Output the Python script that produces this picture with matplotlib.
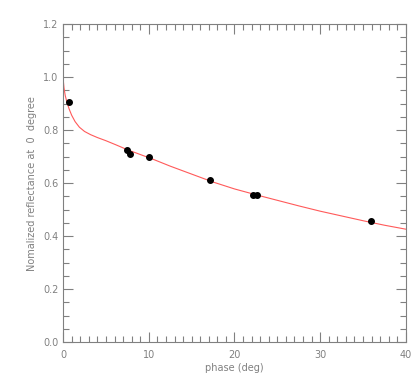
import matplotlib
matplotlib.use("Agg")
from matplotlib import pyplot as plt
from matplotlib.ticker import MultipleLocator

# measured points (phase deg, normalized reflectance)
phase = [0.7, 7.5, 7.85, 10.05, 17.1, 22.2, 22.6, 35.9]
refl = [0.906, 0.726, 0.711, 0.698, 0.612, 0.556, 0.556, 0.457]

# fitted curve
fit_phase = [0.0, 0.1, 0.25, 0.45, 0.7, 1.0, 1.4, 1.9, 2.5, 3.2, 4.0, 5.0,
             6.2, 7.5, 9.0, 10.5, 12.5, 15.0, 17.5, 20.0, 22.5, 25.0, 27.5,
             30.0, 32.5, 35.0, 37.5, 40.0]
fit_refl = [0.995, 0.960, 0.930, 0.905, 0.880, 0.856, 0.832, 0.811, 0.795,
            0.783, 0.772, 0.760, 0.744, 0.726, 0.708, 0.690, 0.664, 0.634,
            0.604, 0.578, 0.556, 0.535, 0.514, 0.494, 0.476, 0.458, 0.441, 0.426]

grey = "#808080"

fig = plt.figure(figsize=(4.18, 3.90), dpi=100)
ax = fig.add_axes([0.151, 0.123, 0.820, 0.815])

ax.plot(fit_phase, fit_refl, "-", color="#ff5a5a", lw=0.8)
ax.plot(phase, refl, "o", color="black", ms=4)

ax.set_xlim(0, 40)
ax.set_ylim(0, 1.2)
ax.xaxis.set_major_locator(MultipleLocator(10))
ax.xaxis.set_minor_locator(MultipleLocator(1))
ax.yaxis.set_major_locator(MultipleLocator(0.2))
ax.yaxis.set_minor_locator(MultipleLocator(0.05))
ax.xaxis.set_major_formatter(plt.FuncFormatter(lambda v, p: "%d" % round(v)))
ax.yaxis.set_major_formatter(plt.FuncFormatter(lambda v, p: "%.1f" % v))

ax.tick_params(which="both", direction="in", top=True, right=True,
               colors=grey, labelcolor=grey, labelsize=7, width=0.8)
ax.tick_params(which="major", length=7)
ax.tick_params(which="minor", length=4)
ax.tick_params(axis="x", pad=6)
for s in ax.spines.values():
    s.set_color(grey)
    s.set_linewidth(0.8)

ax.set_xlabel("phase (deg)", color=grey, fontsize=7, labelpad=2)
ax.set_ylabel("Nomalized reflectance at  0  degree", color=grey, fontsize=7, labelpad=4)

fig.savefig("out.png", dpi=100)
